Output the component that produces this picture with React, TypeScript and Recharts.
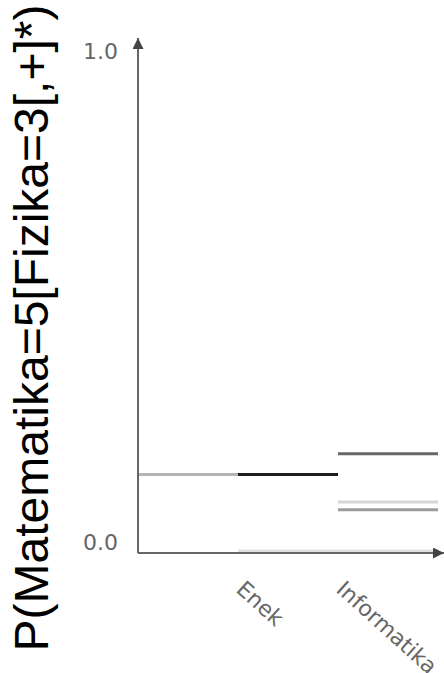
import { LineChart, Line, XAxis, YAxis } from "recharts";

const categories = ["", "Enek", "Informatika", ""];

// one array per horizontal segment group, null where a segment is absent
const baseline = [0.156, 0.156, null, null];
const enek = [null, 0.156, 0.156, null];
const zeroLine = [null, 0, 0, 0];
const infoTop = [null, null, 0.198, 0.198];
const infoLight = [null, null, 0.1, 0.1];
const infoMid = [null, null, 0.084, 0.084];

const yTicks = [0, 1];
const yLabel = "P(Matematika=5[Fizika=3[,+]*)";

const data = categories.map((name, i) => ({
  name,
  baseline: baseline[i],
  enek: enek[i],
  zeroLine: zeroLine[i],
  infoTop: infoTop[i],
  infoLight: infoLight[i],
  infoMid: infoMid[i],
}));

const YTick = ({ x, y, payload }: any) => (
  <text
    x={x - 12}
    y={y - 7}
    textAnchor="end"
    dominantBaseline="middle"
    fill="#666"
    fontSize={22}
    fontFamily="'DejaVu Sans', sans-serif"
  >
    {Number(payload.value).toFixed(1)}
  </text>
);

const XTick = ({ x, y, payload }: any) => {
  const tx = x - 3;
  const ty = y + 30;
  return (
    <text
      x={tx}
      y={ty}
      transform={`rotate(42, ${tx}, ${ty})`}
      textAnchor="start"
      fill="#666"
      fontSize={22}
      fontFamily="'DejaVu Sans', sans-serif"
    >
      {payload.value}
    </text>
  );
};

const AxisTitle = () => (
  <text
    x={48}
    y={328}
    transform="rotate(-90, 48, 328)"
    textAnchor="middle"
    fill="#000"
    fontSize={48}
    fontFamily="'Liberation Sans', Arial, sans-serif"
  >
    {yLabel}
  </text>
);

export default function App() {
  return (
    <div style={{ position: "absolute", left: 0, top: 0, width: 444, height: 673, background: "#fff" }}>
      <svg width={0} height={0} style={{ position: "absolute" }}>
        <defs>
          <marker
            id="axisArrow"
            viewBox="0 0 10 10"
            refX={10}
            refY={5}
            markerWidth={11}
            markerHeight={11}
            markerUnits="userSpaceOnUse"
            orient="auto-start-reverse"
          >
            <path d="M0,0 L10,5 L0,10 z" fill="#444" />
          </marker>
        </defs>
      </svg>
      <LineChart width={444} height={673} data={data} margin={{ top: 38, right: 0, bottom: 0, left: 0 }}>
        <XAxis
          dataKey="name"
          height={120}
          padding={{ left: 0, right: 6 }}
          tickLine={false}
          axisLine={{ stroke: "#666", strokeWidth: 2, markerEnd: "url(#axisArrow)" }}
          tick={<XTick />}
          interval={0}
        />
        <YAxis
          width={138}
          domain={[-0.004, 1.045]}
          ticks={yTicks}
          allowDataOverflow
          tickLine={false}
          axisLine={{ stroke: "#666", strokeWidth: 2, markerStart: "url(#axisArrow)" }}
          tick={<YTick />}
          label={{ content: () => <AxisTitle /> }}
        />
        <Line dataKey="zeroLine" stroke="#e0e0e0" strokeWidth={3} dot={false} isAnimationActive={false} />
        <Line dataKey="baseline" stroke="#b4b4b4" strokeWidth={3} dot={false} isAnimationActive={false} />
        <Line dataKey="enek" stroke="#1e1e1e" strokeWidth={3} dot={false} isAnimationActive={false} />
        <Line dataKey="infoTop" stroke="#666" strokeWidth={3} dot={false} isAnimationActive={false} />
        <Line dataKey="infoLight" stroke="#d6d6d6" strokeWidth={3} dot={false} isAnimationActive={false} />
        <Line dataKey="infoMid" stroke="#9c9c9c" strokeWidth={3} dot={false} isAnimationActive={false} />
      </LineChart>
    </div>
  );
}
